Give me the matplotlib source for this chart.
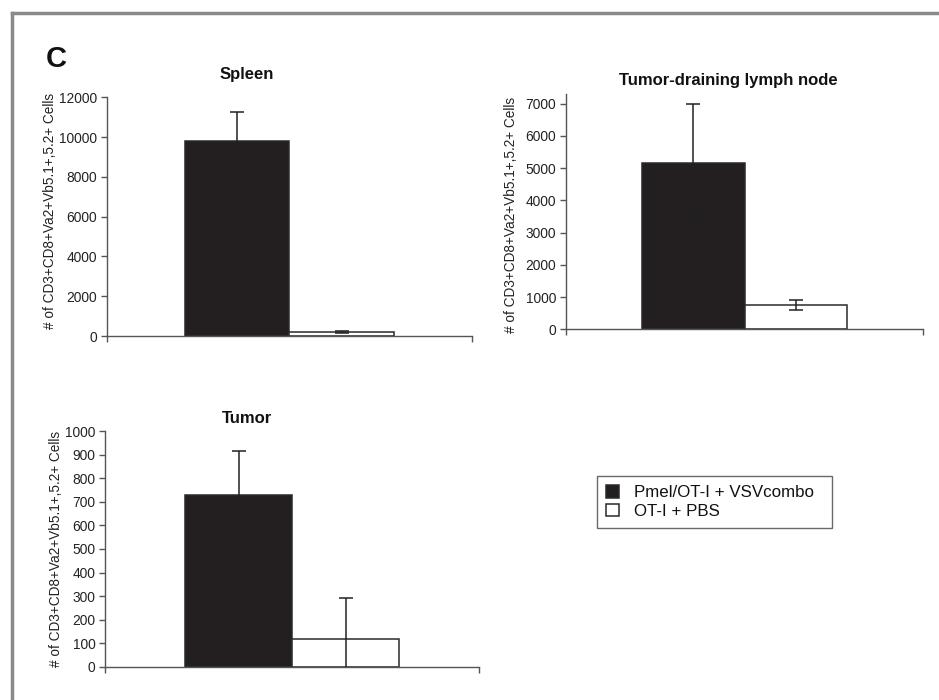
import matplotlib
matplotlib.use("Agg")
import matplotlib.pyplot as plt
from matplotlib.lines import Line2D
import numpy as np

plt.rcParams['font.family'] = ['Liberation Sans', 'DejaVu Sans']

# ---- data ----
series_names = ["Pmel/OT-I + VSVcombo", "OT-I + PBS"]
panel_titles = ["Spleen", "Tumor-draining lymph node", "Tumor"]
spleen_vals = [9800, 190]
spleen_errs = [1450, 40]
tdln_vals = [5170, 750]
tdln_errs = [1820, 160]
tumor_vals = [728, 119]
tumor_errs = [190, 173]
spleen_ticks = [0, 2000, 4000, 6000, 8000, 10000, 12000]
tdln_ticks = [0, 1000, 2000, 3000, 4000, 5000, 6000, 7000]
tumor_ticks = [0, 100, 200, 300, 400, 500, 600, 700, 800, 900, 1000]
ylabel = "# of CD3+CD8+Va2+Vb5.1+,5.2+ Cells"

W, H = 939, 700
fig = plt.figure(figsize=(W / 100, H / 100), dpi=100)
fig.patch.set_facecolor("white")

bar_colors = ["#231f20", "white"]
edge = "#2a2a2a"
axis_col = "#555555"


def px_axes(l, r, top, bottom):
    return fig.add_axes([l / W, 1 - bottom / H, (r - l) / W, (bottom - top) / H])


def panel(ax, vals, errs, ticks, ylim_top, title, title_xy, lab_xy):
    w = 0.287
    xs = [0.5 - w / 2, 0.5 + w / 2]
    bars = ax.bar(xs, vals, width=w, color=bar_colors, edgecolor=edge,
                  linewidth=1.1, zorder=2)
    ax.errorbar(xs, vals, yerr=errs, fmt="none", ecolor="#222222",
                elinewidth=1.1, capsize=5, capthick=1.1, zorder=3)
    ax.set_xlim(0, 1)
    ax.set_ylim(0, ylim_top)
    ax.set_yticks(ticks)
    ax.set_yticklabels([str(t) for t in ticks], fontsize=9.9, color="#222222")
    ax.set_xticks([0, 1])
    ax.set_xticklabels(["", ""])
    ax.tick_params(axis="both", direction="out", length=4, width=1.0,
                   color=axis_col, pad=3)
    for s in ["top", "right"]:
        ax.spines[s].set_visible(False)
    for s in ["left", "bottom"]:
        ax.spines[s].set_color(axis_col)
        ax.spines[s].set_linewidth(1.0)
    ax.set_ylabel(ylabel, fontsize=9.8, color="#222222")
    ax.yaxis.set_label_coords(*lab_xy)
    fig.text(title_xy[0] / W, 1 - title_xy[1] / H, title, fontsize=12,
             fontweight="bold", ha="center", va="center", color="#111111")
    return bars


ax1 = px_axes(107, 471.7, 97.3, 336)
panel(ax1, spleen_vals, spleen_errs, spleen_ticks, 12000, panel_titles[0],
      (247, 74), (-0.138, 0.526))

ax2 = px_axes(565.7, 923.3, 94, 329.3)
panel(ax2, tdln_vals, tdln_errs, tdln_ticks, 7300, panel_titles[1],
      (728, 80), (-0.1326, 0.486))

ax3 = px_axes(105.3, 479, 431.3, 666.7)
bars = panel(ax3, tumor_vals, tumor_errs, tumor_ticks, 1000, panel_titles[2],
             (247, 418), (-0.112, 0.5))

# legend
leg = fig.legend([bars[0], bars[1]], series_names, loc="upper left",
                 bbox_to_anchor=(597 / W, 1 - 529 / H, 235 / W, 53 / H),
                 mode="expand", fontsize=12.2,
                 frameon=True, fancybox=False, shadow=False,
                 handlelength=0.76, handleheight=0.76, handletextpad=0.86,
                 labelspacing=0.2, borderpad=0.55, borderaxespad=0.0)
leg.get_frame().set_edgecolor("#444444")
leg.get_frame().set_linewidth(1.0)
for t in leg.get_texts():
    t.set_color("#111111")

# panel letter
fig.text(46 / W, 1 - 59 / H, "C", fontsize=21, fontweight="bold",
         ha="left", va="center", color="#111111")

# outer frame (top and left)
fig.add_artist(Line2D([12 / W, 1.0], [1 - 13 / H, 1 - 13 / H],
                      transform=fig.transFigure, color="#8a8a8a", linewidth=2.5))
fig.add_artist(Line2D([12 / W, 12 / W], [1 - 13 / H, 0.0],
                      transform=fig.transFigure, color="#8a8a8a", linewidth=2.5))

fig.savefig("out.png", dpi=100, facecolor="white")
